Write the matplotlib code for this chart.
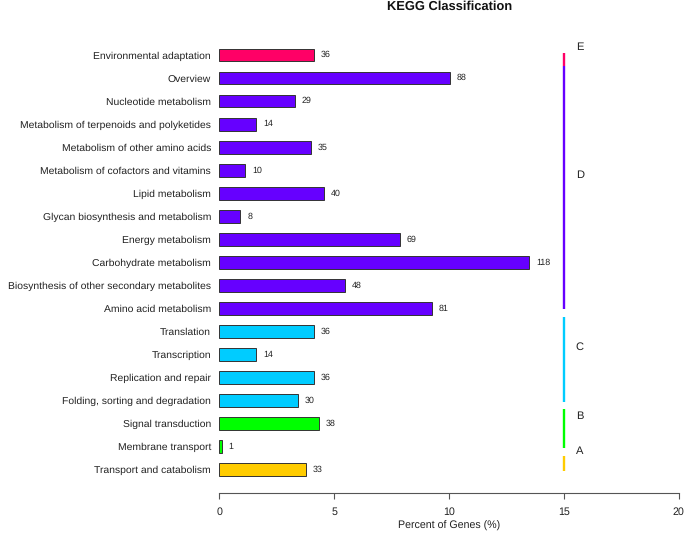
import matplotlib
matplotlib.use("Agg")
import matplotlib.pyplot as plt

# ---- data (top to bottom as displayed) ----
categories = [
    "Environmental adaptation", "Overview", "Nucleotide metabolism",
    "Metabolism of terpenoids and polyketides", "Metabolism of other amino acids",
    "Metabolism of cofactors and vitamins", "Lipid metabolism",
    "Glycan biosynthesis and metabolism", "Energy metabolism",
    "Carbohydrate metabolism", "Biosynthesis of other secondary metabolites",
    "Amino acid metabolism", "Translation", "Transcription",
    "Replication and repair", "Folding, sorting and degradation",
    "Signal transduction", "Membrane transport", "Transport and catabolism",
]
groups = ["E", "D", "D", "D", "D", "D", "D", "D", "D", "D", "D", "D",
          "C", "C", "C", "C", "B", "B", "A"]
counts = [36, 88, 29, 14, 35, 10, 40, 8, 69, 118, 48, 81, 36, 14, 36, 30, 38, 1, 33]
percent = [4.13, 10.04, 3.30, 1.60, 4.00, 1.13, 4.57, 0.91, 7.87, 13.50, 5.48,
           9.26, 4.12, 1.60, 4.12, 3.43, 4.35, 0.11, 3.78]
group_colors = {"A": "#FFCC00", "B": "#00FF00", "C": "#00CCFF",
                "D": "#6600FF", "E": "#FF0066"}
x_ticks = [0, 5, 10, 15, 20]

plt.rcParams['font.family'] = ['Liberation Sans', 'DejaVu Sans']
plt.rcParams['text.hinting'] = 'no_hinting'

fig = plt.figure(figsize=(6.85, 5.33), dpi=100)
ax = fig.add_axes([0.3202, 0.0756, 0.6706, 0.8861])

n = len(categories)
ypos = [n - 1 - i for i in range(n)]
colors = [group_colors[g] for g in groups]

ax.barh(ypos, percent, height=0.56, color=colors, edgecolor="#333333", linewidth=0.7)
for y, p, c in zip(ypos, percent, counts):
    ax.text(p + 0.3, y, str(c), va="center", ha="left", fontsize=6.4, color="#222222")

# group segments on the right (row units)
spans = {"A": (-0.06, 0.60), "B": (0.94, 2.63), "C": (2.94, 6.63),
         "D": (6.96, 17.54), "E": (17.54, 18.07)}
for g, (lo, hi) in spans.items():
    ax.plot([15, 15], [lo, hi], color=group_colors[g], linewidth=1.7,
            solid_capstyle="butt")
    ax.text(15.7, (lo + hi) / 2 + 0.55, g, ha="center", va="center",
            fontsize=8, color="#222222")

ax.set_xlim(0, 20)
ax.set_ylim(-1.0, 19.5)
ax.set_yticks(ypos)
ax.set_yticklabels(categories, fontsize=7.5, color="#222222")
ax.tick_params(axis="y", length=0, pad=6)
ax.set_xticks(x_ticks)
ax.set_xticklabels([str(t) for t in x_ticks], fontsize=7.7, color="#222222")
ax.tick_params(axis="x", length=4.5, width=0.8, color="#555555", pad=6)
for s in ["left", "top", "right"]:
    ax.spines[s].set_visible(False)
ax.spines["bottom"].set_bounds(0, 20)
ax.spines["bottom"].set_color("#555555")
ax.spines["bottom"].set_linewidth(0.8)

fig.text(449 / 685, 1 - 526 / 533, "Percent of Genes (%)", ha="center", va="center",
         fontsize=7.7, color="#222222")
fig.text(450 / 685, 1 - 7 / 533, "KEGG Classification", ha="center", va="center",
         fontsize=9.3, fontweight="bold", color="#111111")

fig.savefig("out.png", dpi=100)
